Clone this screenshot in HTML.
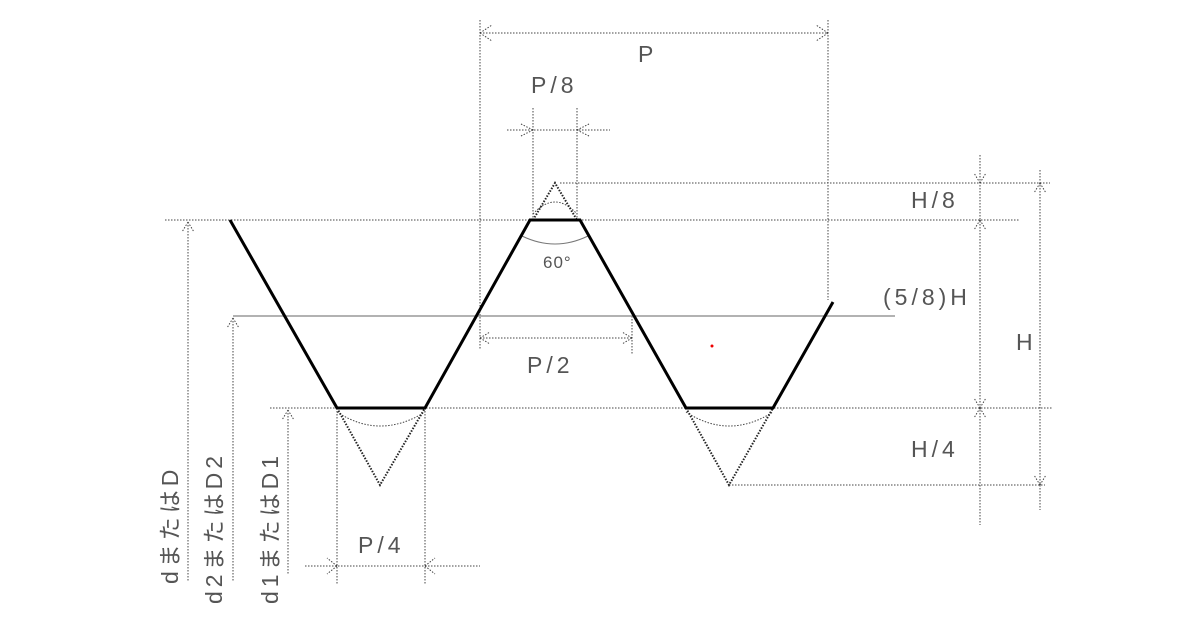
<!DOCTYPE html><html><head><style>body{margin:0;background:#fff}svg{display:block}text{font-family:"Liberation Sans","Noto Sans CJK JP",sans-serif;fill:#555}</style></head><body>
<svg width="1200" height="628" viewBox="0 0 1200 628">
<g stroke="#444" stroke-width="1" stroke-dasharray="1.5,1.5" fill="none">
<line x1="480" y1="20" x2="480" y2="350"/><line x1="828" y1="20" x2="828" y2="300"/>
<line x1="480" y1="33" x2="828" y2="33"/>
<line x1="533" y1="108" x2="533" y2="220"/><line x1="577" y1="108" x2="577" y2="220"/>
<line x1="507" y1="130" x2="610" y2="130"/>
<line x1="560" y1="183" x2="1050" y2="183"/>
<line x1="165" y1="220" x2="1020" y2="220"/>
<line x1="980" y1="155" x2="980" y2="525"/><line x1="1040" y1="170" x2="1040" y2="510"/>
<line x1="270" y1="408" x2="1052" y2="408"/><line x1="729" y1="485" x2="1045" y2="485"/>
<line x1="480" y1="338" x2="632" y2="338"/><line x1="632" y1="316" x2="632" y2="355"/>
<line x1="337" y1="408" x2="337" y2="585"/><line x1="425" y1="408" x2="425" y2="585"/>
<line x1="305" y1="566" x2="480" y2="566"/>
<line x1="188" y1="222" x2="188" y2="582"/><line x1="233" y1="318" x2="233" y2="582"/><line x1="288" y1="410" x2="288" y2="575"/>
<path d="M337 412 Q380 440 425 412 M686 412 Q729 440 773 412 M533 214 Q555 190 577 214"/>
<path d="M480 33l12-8M480 33l12 8M828 33l-12-8M828 33l-12 8M533 130l-12-6M533 130l-12 6M577 130l12-6M577 130l12 6M188 222l-6 10M188 222l6 10M233 318l-6 10M233 318l6 10M288 410l-6 10M288 410l6 10M337 566l-10-8M337 566l-10 8M425 566l10-8M425 566l10 8M480 338l10-6M480 338l10 6M632 338l-10-6M632 338l-10 6M980 183l-6-10M980 183l6-10M980 220l-6 10M980 220l6 10M980 408l-6-10M980 408l6-10M980 408l-6 10M980 408l6 10M1040 183l-6 10M1040 183l6 10M1040 485l-6-10M1040 485l6-10"/>
</g>
<g stroke="#222" stroke-width="2" stroke-dasharray="1.5,1.5" fill="none">
<path d="M533 220 L555 183 L577 220 M337 408 L380 485 L425 408 M686 408 L729 485 L773 408"/>
</g>
<path d="M522 236 Q555 252 588 236" stroke="#777" fill="none"/>
<line x1="233" y1="316" x2="895" y2="316" stroke="#999" stroke-width="1.5"/>
<polyline points="230,220 337,408 425,408 530,220 580,220 686,408 773,408 833,302" fill="none" stroke="#000" stroke-width="3"/>
<circle cx="712" cy="346" r="1.5" fill="#e00"/>
<g font-size="23" letter-spacing="4">
<text x="638" y="62">P</text><text x="531" y="93">P/8</text><text x="911" y="208">H/8</text>
<text x="883" y="305">(5/8)H</text><text x="1016" y="350">H</text><text x="527" y="373">P/2</text>
<text x="911" y="457">H/4</text><text x="358" y="553">P/4</text>
<text x="543" y="268" font-size="17" letter-spacing="1">60°</text>
<text transform="translate(178,584) rotate(-90)">dまたはD</text>
<text transform="translate(222,604) rotate(-90)">d2またはD2</text>
<text transform="translate(278,604) rotate(-90)">d1またはD1</text>
</g>
</svg></body></html>
